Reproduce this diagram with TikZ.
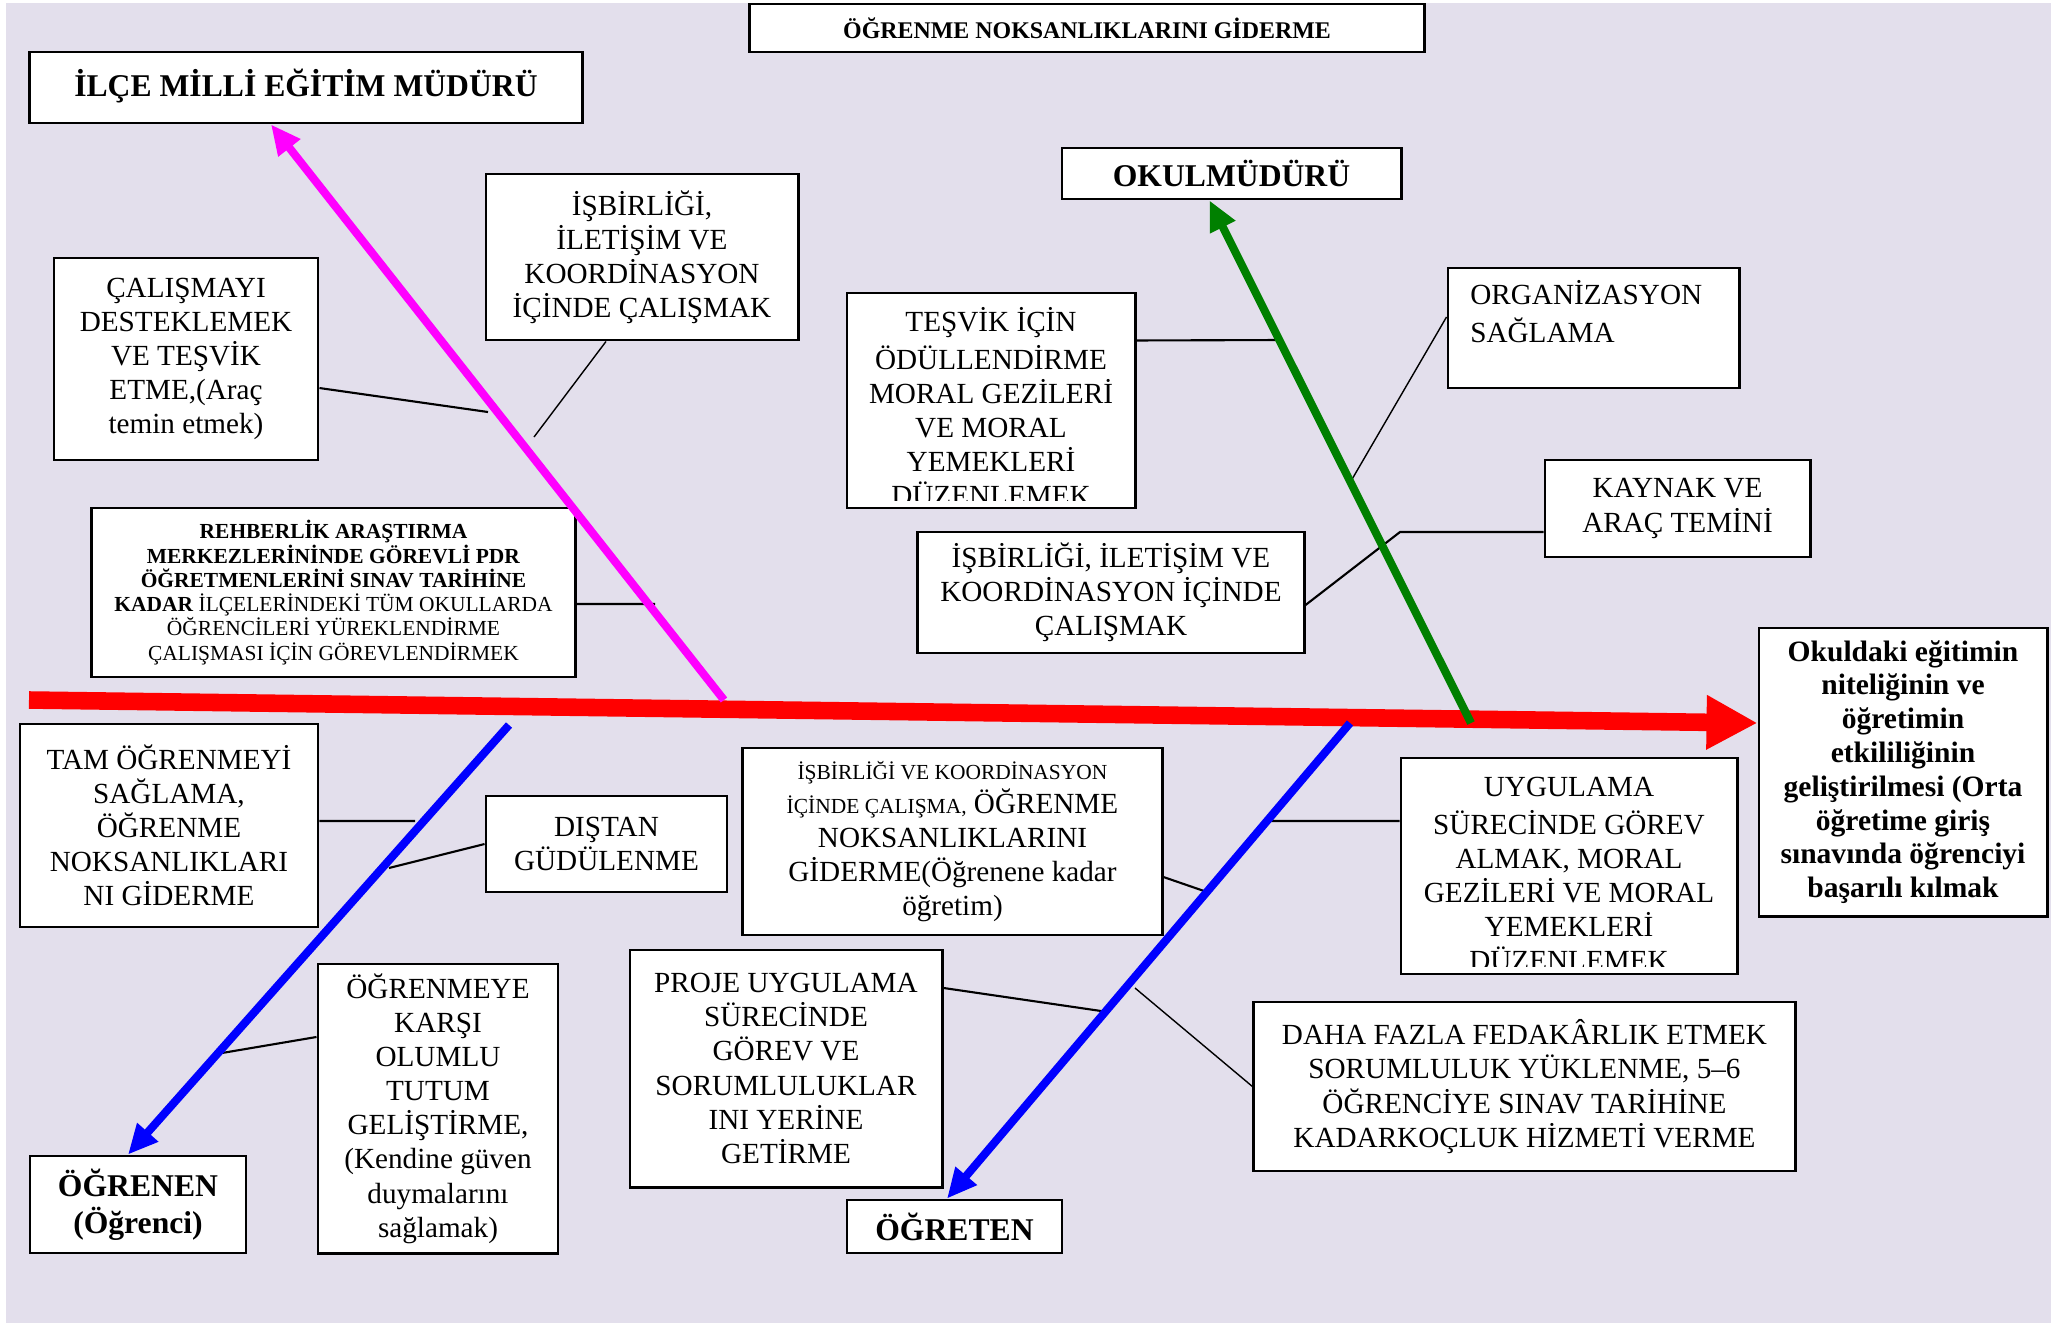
\documentclass[tikz,border=0pt]{standalone}
\usepackage{fontspec}
\setmainfont{Liberation Serif}
\usetikzlibrary{arrows.meta}
\definecolor{lavanta}{RGB}{227,223,236}
\definecolor{mor}{RGB}{255,0,255}
\definecolor{yesil}{RGB}{0,128,0}
\newcommand{\kucuk}[1]{{\fontsize{6.1}{7}\selectfont #1}}

\begin{document}
\begin{tikzpicture}[x=0.01cm,y=-0.01cm,
    box/.style={draw,fill=white,line width=0.8pt,inner sep=0pt,align=center,font=\fontsize{8.3}{9.7}\selectfont},
    baslik/.style={box,font=\fontsize{9}{10.5}\selectfont\bfseries},
    twig/.style={line width=0.6pt},
    ince/.style={line width=0.4pt},
    bone/.style={line width=2.3pt,-{Triangle[length=8.5pt,width=7.5pt]}},
    icyazi/.style={draw=none,fill=none,inner sep=0pt,minimum width=0pt,minimum height=0pt,font=\fontsize{8.3}{9.7}\selectfont},
    ustyazi/.style={path picture={
        \clip ([shift={(0.08cm,0.08cm)}]path picture bounding box.south west) rectangle ([shift={(-0.08cm,-0.08cm)}]path picture bounding box.north east);
        \node[icyazi,anchor=north,align=center] at ([yshift=-0.13cm]path picture bounding box.north) {\strut #1};}},
    ustyazisol/.style={path picture={
        \node[icyazi,anchor=north west,align=left] at ([shift={(0.21cm,-0.11cm)}]path picture bounding box.north west) {\strut #1};}},
    ]
    % Background
    \useasboundingbox (0,0) rectangle (2051,1323);
    \fill[white] (0,0) rectangle (2051,1323);
    \fill[lavanta] (6,3) rectangle (2051,1323);

    % Title and the four actors
    \node[box,font=\fontsize{6.8}{8}\selectfont\bfseries,minimum width=6.74cm,minimum height=0.48cm] (baslik) at (1087,28) {ÖĞRENME NOKSANLIKLARINI GİDERME};
    \node[baslik,minimum width=5.52cm,minimum height=0.71cm] (ilce) at (306,87.5) {\raisebox{0.1cm}{İLÇE MİLLİ EĞİTİM MÜDÜRÜ}};
    \node[baslik,minimum width=3.39cm,minimum height=0.51cm] (okul) at (1231.5,173.5) {OKULMÜDÜRÜ};
    \node[baslik,minimum width=2.16cm,minimum height=0.97cm] (ogrenen) at (138,1204.5) {ÖĞRENEN\\(Öğrenci)};
    \node[baslik,minimum width=2.15cm,minimum height=0.53cm] (ogreten) at (954.5,1226.5) {ÖĞRETEN};

    % Outcome
    \node[box,font=\fontsize{8.4}{9.6}\selectfont\bfseries,minimum width=2.88cm,minimum height=2.88cm] (sonuc) at (1903,772)
        {Okuldaki eğitimin\\niteliğinin ve\\öğretimin\\etkililiğinin\\geliştirilmesi (Orta\\öğretime giriş\\sınavında öğrenciyi\\başarılı kılmak};

    % Causes, upper half
    \node[box,minimum width=2.64cm,minimum height=2.02cm] (calis) at (186,359) {ÇALIŞMAYI\\DESTEKLEMEK\\VE TEŞVİK\\ETME,(Araç\\temin etmek)};
    \node[box,minimum width=3.12cm,minimum height=1.66cm] (isbirA) at (642,257) {İŞBİRLİĞİ,\\İLETİŞİM VE\\KOORDİNASYON\\İÇİNDE ÇALIŞMAK};
    \node[box,font=\fontsize{6.1}{6.9}\selectfont,minimum width=4.83cm,minimum height=1.69cm] (rehber) at (333.5,592.5)
        {\textbf{REHBERLİK ARAŞTIRMA}\\\textbf{MERKEZLERİNİNDE GÖREVLİ PDR}\\\textbf{ÖĞRETMENLERİNİ SINAV TARİHİNE}\\\textbf{KADAR} İLÇELERİNDEKİ TÜM OKULLARDA\\ÖĞRENCİLERİ YÜREKLENDİRME\\ÇALIŞMASI İÇİN GÖREVLENDİRMEK};
    \node[box,minimum width=2.88cm,minimum height=2.15cm,ustyazi={TEŞVİK İÇİN\\ÖDÜLLENDİRME\\MORAL GEZİLERİ\\VE MORAL\\YEMEKLERİ\\DÜZENLEMEK}] (tesvik) at (991,400.5) {};
    \node[box,minimum width=2.91cm,minimum height=1.2cm,ustyazisol={ORGANİZASYON\\SAĞLAMA}] (organ) at (1593.5,328) {};
    \node[box,minimum width=2.65cm,minimum height=0.97cm] (kaynak) at (1677.5,508.5) {KAYNAK VE\\ARAÇ TEMİNİ};
    \node[box,minimum width=3.86cm,minimum height=1.21cm] (isbirB) at (1111,592.5) {İŞBİRLİĞİ, İLETİŞİM VE\\KOORDİNASYON İÇİNDE\\ÇALIŞMAK};

    % Causes, lower half
    \node[box,minimum width=2.98cm,minimum height=2.03cm] (tam) at (169,825.5) {TAM ÖĞRENMEYİ\\SAĞLAMA,\\ÖĞRENME\\NOKSANLIKLARI\\NI GİDERME};
    \node[box,minimum width=2.41cm,minimum height=0.96cm] (distan) at (606.5,844) {DIŞTAN\\GÜDÜLENME};
    \node[box,minimum width=2.4cm,minimum height=2.89cm] (ogrenmeye) at (438,1108.5) {ÖĞRENMEYE\\KARŞI\\OLUMLU\\TUTUM\\GELİŞTİRME,\\(Kendine güven\\duymalarını\\sağlamak)};
    \node[box,minimum width=4.19cm,minimum height=1.87cm] (noksan) at (952.5,841.5)
        {\kucuk{İŞBİRLİĞİ VE KOORDİNASYON}\\\kucuk{İÇİNDE ÇALIŞMA,} ÖĞRENME\\NOKSANLIKLARINI\\GİDERME(Öğrenene kadar\\öğretim)};
    \node[box,minimum width=3.36cm,minimum height=2.16cm,ustyazi={UYGULAMA\\SÜRECİNDE GÖREV\\ALMAK, MORAL\\GEZİLERİ VE MORAL\\YEMEKLERİ\\DÜZENLEMEK}] (uygula) at (1569,866) {};
    \node[box,minimum width=3.12cm,minimum height=2.37cm] (proje) at (786,1068.5) {PROJE UYGULAMA\\SÜRECİNDE\\GÖREV VE\\SORUMLULUKLAR\\INI YERİNE\\GETİRME};
    \node[box,minimum width=5.41cm,minimum height=1.69cm] (daha) at (1524.5,1086.5) {DAHA FAZLA FEDAKÂRLIK ETMEK\\SORUMLULUK YÜKLENME, 5–6\\ÖĞRENCİYE SINAV TARİHİNE\\KADARKOÇLUK HİZMETİ VERME};

    % Bone ends on the spine
    \coordinate (spineL) at (29,700);
    \coordinate (mB) at (724,700);
    \coordinate (gB) at (1471,723);
    \coordinate (b1B) at (509,725);
    \coordinate (b2B) at (1350,723);

    % Points where the small lines meet the bones
    \coordinate (m1) at (488,412);
    \coordinate (m2) at (534,437);
    \coordinate (m3) at (655,604);
    \coordinate (g1) at (1279,340);
    \coordinate (g2) at (1351,481);
    \coordinate (kb) at (1400,532);
    \coordinate (b1) at (415,821);
    \coordinate (b2) at (389,868);
    \coordinate (b3) at (216,1054);
    \coordinate (c1) at (1207,892);
    \coordinate (c2) at (1270,821);
    \coordinate (c3) at (1108,1012);
    \coordinate (c4) at (1135,988);

    % Small lines
    \draw[twig] ([yshift=-0.29cm]calis.east) -- (m1);
    \draw[ince] ([xshift=-0.36cm]isbirA.south) -- (m2);
    \draw[twig] ([yshift=-0.115cm]rehber.east) -- (m3);
    \draw[twig] ([yshift=0.6cm]tesvik.east) -- (g1);
    \draw[ince] ([yshift=0.11cm]organ.west) -- (g2);
    \draw[twig] ([yshift=-0.235cm]kaynak.west) -- (kb) -- ([yshift=-0.125cm]isbirB.east);
    \draw[twig] ([yshift=0.045cm]tam.east) -- (b1);
    \draw[twig] (distan.west) -- (b2);
    \draw[twig] ([yshift=0.715cm]ogrenmeye.west) -- (b3);
    \draw[twig] ([yshift=-0.355cm]noksan.east) -- (c1);
    \draw[twig] ([yshift=0.45cm]uygula.west) -- (c2);
    \draw[twig] ([yshift=0.805cm]proje.east) -- (c3);
    \draw[ince] (daha.west) -- (c4);

    % Spine
    \draw[red,line width=5pt,-{Triangle[length=14.5pt,width=14.5pt]}] (spineL) -- ([yshift=0.49cm]sonuc.west);

    % Bones
    \draw[bone,mor] (mB) -- ([xshift=-0.35cm]ilce.south);
    \draw[bone,yesil] (gB) -- ([xshift=-0.22cm]okul.south);
    \draw[bone,blue] (b1B) -- ([xshift=-0.1cm]ogrenen.north);
    \draw[bone,blue] (b2B) -- ([xshift=-0.075cm]ogreten.north);
\end{tikzpicture}
\end{document}
